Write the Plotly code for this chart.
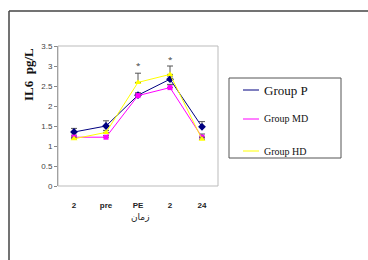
import plotly.graph_objects as go

categories = ["2", "pre", "PE", "2", "24"]
group_p = [1.35, 1.50, 2.27, 2.67, 1.48]
group_p_err = [0.09, 0.13, 0.06, 0.08, 0.13]
group_md = [1.22, 1.22, 2.26, 2.46, 1.22]
group_md_err = [0.05, 0.04, 0.05, 0.08, 0.08]
group_hd = [1.18, 1.34, 2.59, 2.79, 1.17]
group_hd_err = [0.04, 0.05, 0.23, 0.21, 0.05]
star_y = [None, None, 3.05, 3.18, None]

xs = list(range(len(categories)))

fig = go.Figure()

def add(y, err, color, symbol, name, msize):
    fig.add_trace(go.Scatter(
        x=xs, y=y, mode="lines+markers", name=name,
        line=dict(color=color, width=1),
        marker=dict(symbol=symbol, size=msize, color=color),
        error_y=dict(type="data", symmetric=False, array=err,
                     arrayminus=[0]*len(err), color="#555555",
                     thickness=1, width=3),
        showlegend=False))

add(group_p, group_p_err, "#000080", "diamond", "Group P", 6)
add(group_md, group_md_err, "#FF00FF", "square", "Group MD", 5)
add(group_hd, group_hd_err, "#FFFF00", "triangle-up", "Group HD", 6)

annotations = []
for i, s in enumerate(star_y):
    if s is not None:
        annotations.append(dict(x=i, y=s, xref="x", yref="y", text="*",
                                showarrow=False, font=dict(size=8, color="#333")))

W, H = 368, 260
L, R, T, B = 58, 218, 46, 186
def px(x):
    return (x - L) / (R - L)
def py(y):
    return (B - y) / (B - T)

shapes = []
# outer frame
shapes.append(dict(type="line", xref="paper", yref="paper", x0=px(9), x1=px(368),
                   y0=py(11), y1=py(11), line=dict(color="#444", width=1.5)))
shapes.append(dict(type="line", xref="paper", yref="paper", x0=px(9), x1=px(9),
                   y0=py(11), y1=py(260), line=dict(color="#444", width=1.5)))
# plot area border
shapes.append(dict(type="rect", xref="paper", yref="paper", x0=0, x1=1, y0=0, y1=1,
                   line=dict(color="#BBBBBB", width=1)))
# legend box
shapes.append(dict(type="rect", xref="paper", yref="paper", x0=px(229), x1=px(341),
                   y0=py(158), y1=py(78), line=dict(color="#555", width=1)))

leg = [("Group P", "#000080", "diamond", 90, 13),
       ("Group MD", "#FF00FF", "square", 119, 10),
       ("Group HD", "#FFFF00", "triangle-up", 151, 10)]
for name, color, sym, yy, fs in leg:
    shapes.append(dict(type="line", xref="paper", yref="paper", x0=px(243), x1=px(259),
                       y0=py(yy), y1=py(yy), line=dict(color=color, width=1)))
    fig.add_trace(go.Scatter(x=[px(251)], y=[py(yy)], xaxis="x2", yaxis="y2",
                             mode="markers", marker=dict(symbol=sym, size=5, color=color),
                             showlegend=False, hoverinfo="skip", cliponaxis=False))
    annotations.append(dict(x=px(262), y=py(yy), xref="paper", yref="paper", text=name,
                            showarrow=False, xanchor="left", yanchor="middle",
                            font=dict(family="Liberation Serif", size=fs, color="#111")))

annotations.append(dict(x=px(28), y=py(75), xref="paper", yref="paper", text="<b>IL6  pg/L</b>",
                        showarrow=False, textangle=-90, xanchor="center", yanchor="middle",
                        font=dict(family="Liberation Serif", size=13, color="#111")))
annotations.append(dict(x=px(140), y=py(217), xref="paper", yref="paper", text="زمان",
                        showarrow=False, xanchor="center", yanchor="middle",
                        font=dict(family="DejaVu Sans", size=9, color="#222")))

fig.update_layout(
    width=W, height=H,
    margin=dict(l=L, r=W - R, t=T, b=H - B),
    paper_bgcolor="white", plot_bgcolor="white",
    xaxis=dict(range=[-0.5, 4.5], tickvals=xs, ticktext=[f"<b>{c}</b>" for c in categories],
               showgrid=False, zeroline=False, showline=False, ticks="",
               ticklabelstandoff=13,
               tickfont=dict(family="Liberation Sans", size=8, color="#222")),
    yaxis=dict(range=[0, 3.5], dtick=0.5, showgrid=False, zeroline=False,
               showline=True, linecolor="#888", linewidth=1, ticks="outside",
               ticklen=3, tickcolor="#888",
               tickfont=dict(family="Liberation Sans", size=8, color="#444")),
    xaxis2=dict(range=[0, 1], overlaying="x", visible=False, domain=[0, 1]),
    yaxis2=dict(range=[0, 1], overlaying="y", visible=False),
    shapes=shapes, annotations=annotations,
)
fig.write_html("out.html", config={"displayModeBar": False},
               post_script="document.body.style.margin='0';")
